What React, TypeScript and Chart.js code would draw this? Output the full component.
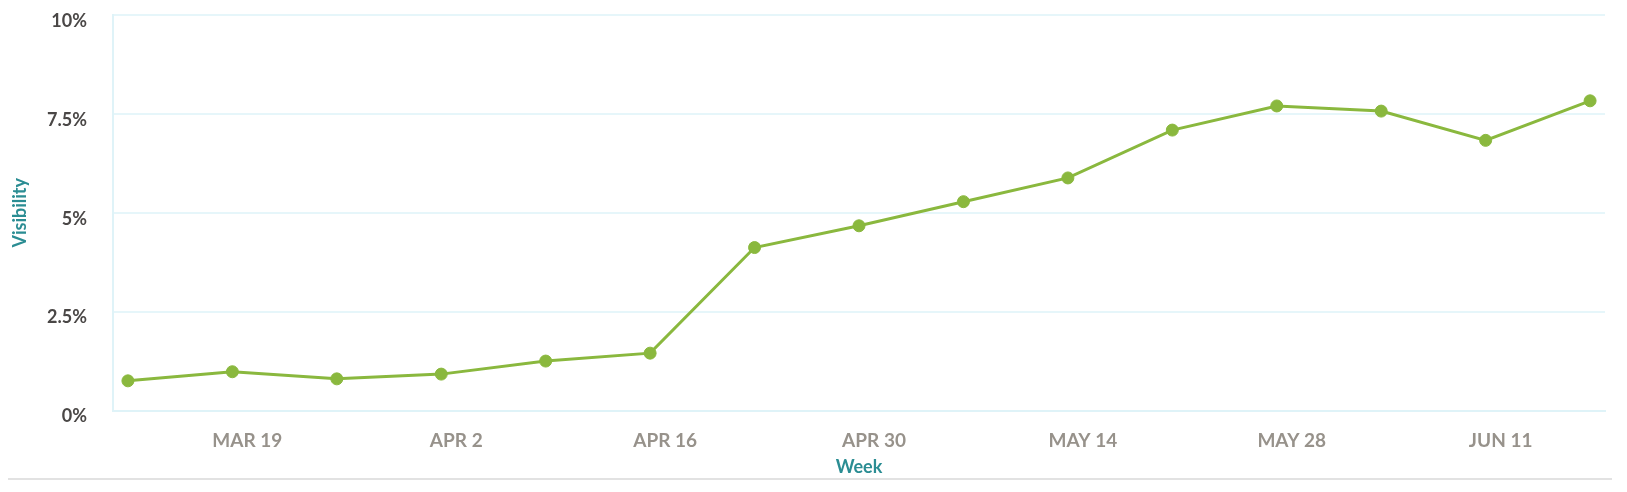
import { useEffect, useRef } from "react"
import { Chart, registerables, type ChartConfiguration } from "chart.js"

Chart.register(...registerables)

// weekly points, Mar 12 .. Jun 18
const weekLabels = [
  "MAR 12", "MAR 19", "MAR 26", "APR 2", "APR 9", "APR 16", "APR 23", "APR 30",
  "MAY 7", "MAY 14", "MAY 21", "MAY 28", "JUN 4", "JUN 11", "JUN 18",
]
const visibility = [0.75, 0.98, 0.8, 0.92, 1.25, 1.45, 4.12, 4.67, 5.28, 5.88, 7.09, 7.7, 7.57, 6.83, 7.83]
// only every other week gets a label
const labeledWeeks = [1, 3, 5, 7, 9, 11, 13]
const yTicks = [0, 2.5, 5, 7.5, 10]

const GREEN = "#8ab83e"
const TEAL = "#2b8d93"
const GRID = "#e6f6fa"
const FONT = "Lato, 'Open Sans', sans-serif"

const VisibilityChart = () => {
  const canvasRef = useRef<HTMLCanvasElement>(null)
  const chartRef = useRef<Chart | null>(null)

  useEffect(() => {
    if (!canvasRef.current) return
    if (chartRef.current) chartRef.current.destroy()

    const config: ChartConfiguration = {
      type: "line",
      data: {
        datasets: [
          {
            label: "Visibility",
            data: visibility.map((v, i) => ({ x: i, y: v })),
            borderColor: GREEN,
            backgroundColor: GREEN,
            borderWidth: 3,
            pointRadius: 6,
            pointBackgroundColor: GREEN,
            pointBorderColor: GREEN,
            pointBorderWidth: 1,
            tension: 0,
            fill: false,
          },
        ],
      },
      options: {
        animation: false,
        responsive: true,
        maintainAspectRatio: false,
        layout: { padding: 0 },
        plugins: {
          legend: { display: false },
          tooltip: { enabled: false },
        },
        scales: {
          x: {
            type: "linear",
            min: -1 / 7,
            max: 14 + 1 / 7,
            afterBuildTicks: (scale) => {
              scale.ticks = labeledWeeks.map((w) => ({ value: w }))
            },
            afterFit: (scale) => {
              scale.height = 67.5
            },
            grid: { display: false, drawTicks: false },
            border: { display: true, color: "#dff3f8", width: 2 },
            ticks: {
              autoSkip: false,
              maxRotation: 0,
              padding: 19,
              labelOffset: 15,
              color: "#97928b",
              font: { family: FONT, size: 19, weight: "bold" },
              callback: (value) => weekLabels[value as number] ?? "",
            },
            title: {
              display: true,
              text: "Week",
              color: TEAL,
              padding: { top: 5, bottom: 0 },
              font: { family: FONT, size: 18, weight: "bold" },
            },
          },
          y: {
            min: 0,
            max: 10,
            afterBuildTicks: (scale) => {
              scale.ticks = yTicks.map((v) => ({ value: v }))
            },
            afterFit: (scale) => {
              scale.width = 105
              scale.paddingTop = 7
              scale.paddingBottom = 0
            },
            grid: { color: GRID, lineWidth: 2, drawTicks: false },
            border: { display: true, color: "#dff3f8", width: 2 },
            ticks: {
              padding: 26,
              labelOffset: 6,
              color: "#4a4746",
              font: { family: FONT, size: 18, weight: "bold" },
              callback: (value) => `${value}%`,
            },
            title: {
              display: true,
              text: "Visibility",
              color: TEAL,
              padding: { top: 1, bottom: 0 },
              font: { family: FONT, size: 18, weight: "bold" },
            },
          },
        },
      },
    }

    chartRef.current = new Chart(canvasRef.current, config)

    return () => {
      if (chartRef.current) chartRef.current.destroy()
    }
  }, [])

  return (
    <div style={{ width: 1604, borderBottom: "2px solid #e2e2e2" }}>
      <div style={{ position: "relative", width: 1604, height: 470 }}>
        <canvas ref={canvasRef}></canvas>
      </div>
    </div>
  )
}

export default function App() {
  return <VisibilityChart />
}
